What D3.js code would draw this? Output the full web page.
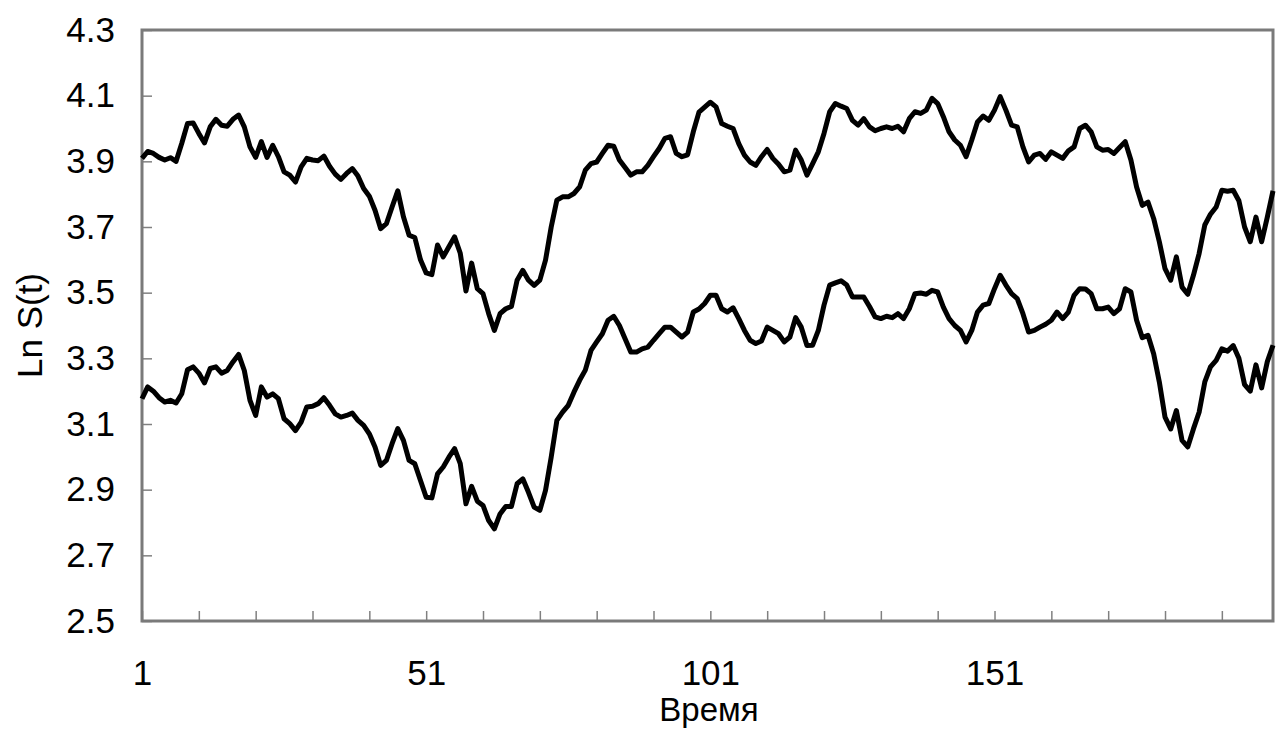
<!DOCTYPE html>
<html>
<head>
<meta charset="utf-8">
<script src="https://cdn.jsdelivr.net/npm/d3@7"></script>
<style>
  body { margin: 0; background: #fff; }
  text { font-family: "Liberation Sans", Arial, sans-serif; fill: #000; }
</style>
</head>
<body>
<svg id="svg" width="1276" height="731"></svg>
<script>
// time index 1..200
const times = d3.range(1, 201);

const upper = [
  3.909, 3.93, 3.924, 3.912, 3.904, 3.911, 3.90, 3.955, 4.015, 4.017,
  3.985, 3.956, 4.005, 4.028, 4.01, 4.007, 4.028, 4.041, 4.005, 3.944,
  3.912, 3.96, 3.912, 3.949, 3.914, 3.868, 3.858, 3.837, 3.883, 3.909,
  3.904, 3.902, 3.916, 3.885, 3.861, 3.845, 3.863, 3.878, 3.855, 3.817,
  3.794, 3.751, 3.695, 3.71, 3.761, 3.81, 3.731, 3.675, 3.668, 3.60,
  3.56, 3.555, 3.645, 3.609, 3.64, 3.67, 3.62, 3.505, 3.59, 3.512,
  3.497, 3.436, 3.385, 3.436, 3.451, 3.458, 3.538, 3.568, 3.538, 3.522,
  3.538, 3.599, 3.70, 3.782, 3.792, 3.792, 3.802, 3.822, 3.873, 3.893,
  3.898, 3.924, 3.949, 3.946, 3.904, 3.881, 3.858, 3.868, 3.868, 3.888,
  3.914, 3.939, 3.97, 3.975, 3.924, 3.914, 3.92, 3.99, 4.05, 4.065,
  4.08, 4.066, 4.015, 4.007, 4.0, 3.954, 3.919, 3.898, 3.888, 3.914,
  3.936, 3.909, 3.891, 3.868, 3.873, 3.934, 3.904, 3.858, 3.893, 3.929,
  3.985, 4.051, 4.076, 4.068, 4.061, 4.025, 4.01, 4.03, 4.005, 3.993,
  4.0, 4.005, 4.0, 4.007, 3.99, 4.03, 4.051, 4.046, 4.056, 4.092,
  4.076, 4.036, 3.99, 3.965, 3.949, 3.914, 3.965, 4.02, 4.038, 4.025,
  4.056, 4.097, 4.056, 4.01, 4.005, 3.944, 3.898, 3.919, 3.924, 3.906,
  3.929, 3.919, 3.909, 3.932, 3.944, 4.0, 4.01, 3.99, 3.944, 3.934,
  3.936, 3.924, 3.942, 3.96, 3.904, 3.822, 3.766, 3.776, 3.726, 3.655,
  3.573, 3.538, 3.609, 3.517, 3.495, 3.553, 3.619, 3.706, 3.739, 3.761,
  3.812, 3.809, 3.812, 3.78, 3.70, 3.655, 3.73, 3.655, 3.73, 3.81
];

const lower = [
  3.177, 3.213, 3.2, 3.18, 3.167, 3.172, 3.164, 3.192, 3.265, 3.274,
  3.255, 3.225, 3.269, 3.274, 3.255, 3.263, 3.289, 3.312, 3.263, 3.172,
  3.126, 3.213, 3.182, 3.192, 3.177, 3.116, 3.101, 3.08, 3.106, 3.152,
  3.154, 3.162, 3.18, 3.157, 3.131, 3.121, 3.126, 3.133, 3.111, 3.096,
  3.07, 3.03, 2.974, 2.989, 3.04, 3.086, 3.05, 2.989, 2.979, 2.928,
  2.877, 2.875, 2.948, 2.969, 2.999, 3.025, 2.979, 2.857, 2.91, 2.865,
  2.852, 2.806, 2.781, 2.826, 2.849, 2.849, 2.918, 2.933, 2.892, 2.847,
  2.837, 2.898, 2.999, 3.111, 3.136, 3.157, 3.197, 3.233, 3.264, 3.324,
  3.35, 3.375, 3.416, 3.428, 3.4, 3.36, 3.319, 3.319, 3.329, 3.334,
  3.355, 3.375, 3.395, 3.395, 3.38, 3.365, 3.38, 3.441, 3.45, 3.467,
  3.492, 3.492, 3.451, 3.441, 3.454, 3.421, 3.385, 3.355, 3.345, 3.353,
  3.395, 3.385, 3.375, 3.35, 3.365, 3.424, 3.395, 3.339, 3.34, 3.385,
  3.462, 3.523, 3.53, 3.536, 3.523, 3.487, 3.487, 3.487, 3.458, 3.426,
  3.421, 3.428, 3.424, 3.436, 3.421, 3.451, 3.497, 3.499, 3.495, 3.507,
  3.502, 3.456, 3.421, 3.4, 3.385, 3.35, 3.385, 3.441, 3.462, 3.467,
  3.512, 3.553, 3.523, 3.497, 3.482, 3.436, 3.38, 3.385, 3.395, 3.404,
  3.416, 3.441, 3.421, 3.441, 3.492, 3.512, 3.511, 3.497, 3.451, 3.451,
  3.456, 3.436, 3.451, 3.512, 3.502, 3.416, 3.363, 3.37, 3.314, 3.228,
  3.121, 3.085, 3.141, 3.05, 3.03, 3.085, 3.136, 3.228, 3.274, 3.294,
  3.329, 3.322, 3.339, 3.30, 3.22, 3.20, 3.28, 3.21, 3.29, 3.34
];

const yTicks = [2.5, 2.7, 2.9, 3.1, 3.3, 3.5, 3.7, 3.9, 4.1, 4.3];
const xTicks = d3.range(1, 200, 10);
const xLabels = [1, 51, 101, 151];

function main() {
    let svg = d3.select("#svg");
    let left = 142, right = 1273, top = 30, bottom = 621;

    let x = d3.scaleLinear().domain([1, 200]).range([left, right]);
    let y = d3.scaleLinear().domain([2.5, 4.3]).range([bottom, top]);

    svg.append("rect")
        .attr("width", 1276).attr("height", 731).attr("fill", "#fff");

    let yAxis = d3.axisLeft(y)
        .tickValues(yTicks)
        .tickSize(-10)
        .tickPadding(27)
        .tickFormat(d3.format(".1f"));
    let gy = svg.append("g")
        .attr("transform", `translate(${left},0)`)
        .call(yAxis);

    let xAxis = d3.axisBottom(x)
        .tickValues(xTicks)
        .tickSize(-10)
        .tickPadding(40)
        .tickFormat(d => xLabels.includes(d) ? d : "");
    let gx = svg.append("g")
        .attr("transform", `translate(0,${bottom})`)
        .call(xAxis);

    [gx, gy].forEach(g => {
        g.select(".domain").remove();
        g.selectAll(".tick line").attr("stroke", "#808080").attr("stroke-width", 1.5);
        g.selectAll(".tick text")
            .style("font-family", "'Liberation Sans', Arial, sans-serif")
            .style("font-size", "35px")
            .attr("fill", "#000");
    });
    // x labels sit a little higher, as in the source
    gx.selectAll(".tick text").attr("dy", "0.68em");

    svg.append("rect")
        .attr("x", left).attr("y", top)
        .attr("width", right - left).attr("height", bottom - top)
        .attr("fill", "none")
        .attr("stroke", "#7a7a7a")
        .attr("stroke-width", 3);

    let line = d3.line()
        .x((d, i) => x(times[i]))
        .y(d => y(d));

    [upper, lower].forEach(series => {
        svg.append("path")
            .attr("d", line(series))
            .attr("fill", "none")
            .attr("stroke", "#000")
            .attr("stroke-width", 5)
            .attr("stroke-linejoin", "round");
    });

    svg.append("text")
        .attr("x", 709)
        .attr("y", 721)
        .attr("text-anchor", "middle")
        .style("font-size", "33px")
        .text("Время");

    svg.append("text")
        .attr("transform", `translate(42,${(top + bottom) / 2}) rotate(-90)`)
        .attr("text-anchor", "middle")
        .style("font-size", "35px")
        .text("Ln S(t)");
}

main();
</script>
</body>
</html>
